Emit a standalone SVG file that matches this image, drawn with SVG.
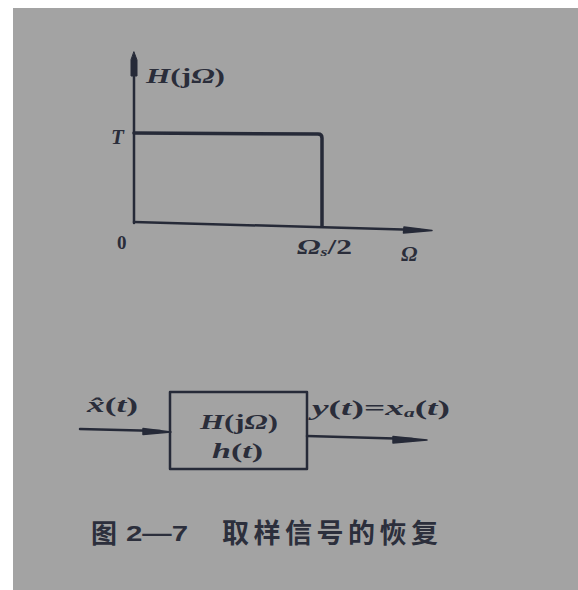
<svg xmlns="http://www.w3.org/2000/svg" width="578" height="590" viewBox="0 0 578 590">
<defs>
<style>
.ink{stroke:#262a38;fill:none;stroke-linecap:round;stroke-linejoin:round}
.m{font-family:"Liberation Serif","DejaVu Serif",serif;font-style:italic;font-weight:bold;fill:#2a2d3a}
.r{font-family:"Liberation Serif","DejaVu Serif",serif;font-weight:bold;fill:#2a2d3a}
.cap{font-family:"Liberation Sans","Noto Sans CJK SC",sans-serif;font-weight:bold;fill:#2c2f3c}
</style>
</defs>
<rect x="0" y="0" width="578" height="590" fill="#ffffff"/>
<rect x="13" y="8" width="565" height="582" fill="#a3a3a3"/>

<g id="graph">
  <g id="axes" class="ink">
    <line x1="134" y1="223" x2="134" y2="62" stroke-width="2.5"/>
    <path d="M134,52 L137,60 L137,76 L131,76 L131,60 Z" fill="#262a38" stroke-width="1"/>
    <line x1="134" y1="222" x2="420" y2="230" stroke-width="2.5"/>
    <path d="M432,230.5 L404,227 L403.5,233 Z" fill="#262a38" stroke-width="1.5"/>
  </g>
  <g id="response" class="ink">
    <path d="M134,133 L318,134 Q322,134 322,138 L322,226" stroke-width="3.5"/>
  </g>
  <text class="m" x="146" y="83" font-size="21" textLength="79" lengthAdjust="spacingAndGlyphs">H<tspan font-style="normal">(j</tspan>Ω<tspan font-style="normal">)</tspan></text>
  <text class="m" x="111" y="144" font-size="21">T</text>
  <text class="r" x="117" y="249" font-size="19">0</text>
  <text class="m" x="297" y="254" font-size="21" textLength="55" lengthAdjust="spacingAndGlyphs">Ω<tspan font-size="12" dy="2">s</tspan><tspan font-style="normal" dy="-2">/2</tspan></text>
  <text class="m" x="401" y="261" font-size="22">Ω</text>
</g>

<g id="connectors" class="ink">
  <line x1="80" y1="429" x2="160" y2="431" stroke-width="2.5"/>
  <path d="M171,432 L143,428.5 L143,434.5 Z" fill="#262a38" stroke-width="1.5"/>
  <line x1="307" y1="436" x2="412" y2="439" stroke-width="2.5"/>
  <path d="M427,440 L393,436.5 L393,443 Z" fill="#262a38" stroke-width="1.5"/>
</g>

<g id="system">
  <rect class="ink" x="170" y="392" width="137" height="77" stroke-width="2.5"/>
  <text class="m" x="200" y="429" font-size="22" textLength="78" lengthAdjust="spacingAndGlyphs">H<tspan font-style="normal">(j</tspan>Ω<tspan font-style="normal">)</tspan></text>
  <text class="m" x="212" y="458" font-size="22" textLength="51" lengthAdjust="spacingAndGlyphs">h<tspan font-style="normal">(</tspan>t<tspan font-style="normal">)</tspan></text>
</g>

<g id="input-label">
  <text class="m" x="87" y="412" font-size="21" textLength="51" lengthAdjust="spacingAndGlyphs">x̂<tspan font-style="normal">(</tspan>t<tspan font-style="normal">)</tspan></text>
</g>
<g id="output-label">
  <text class="m" x="312" y="415" font-size="21" textLength="138" lengthAdjust="spacingAndGlyphs">y<tspan font-style="normal">(</tspan>t<tspan font-style="normal">)=</tspan>x<tspan font-size="12" dy="2">a</tspan><tspan font-style="normal" dy="-2">(</tspan>t<tspan font-style="normal">)</tspan></text>
</g>

<g id="caption">
  <text class="cap" x="91" y="543" font-size="26">图</text>
  <text class="cap" x="126" y="541" font-size="22" textLength="62" lengthAdjust="spacingAndGlyphs">2—7</text>
  <text class="cap" x="222" y="543" font-size="27" textLength="216" lengthAdjust="spacing">取样信号的恢复</text>
</g>
</svg>
